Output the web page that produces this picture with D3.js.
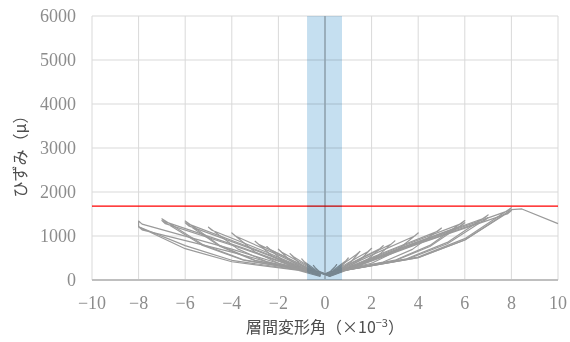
<!DOCTYPE html>
<html>
<head>
<meta charset="utf-8">
<script src="https://cdn.jsdelivr.net/npm/d3@7"></script>
<style>
  body { margin: 0; background: #fff; }
  svg text { font-family: "Liberation Serif", "DejaVu Serif", serif; }
</style>
</head>
<body>
<div id="chart"></div>
<script>
// axis ticks
const xTicks = [-10, -8, -6, -4, -2, 0, 2, 4, 6, 8, 10];
const yTicks = [0, 1000, 2000, 3000, 4000, 5000, 6000];

// highlighted drift range and strain limit
const bandRange = [-0.77, 0.73];
const limitStrain = 1680;

// strain history: one array per loading cycle, [drift(×10^-3), strain(μ)]
const cycles = [
  [[0.05,150],[0.25,200],[0.375,256],[0.5,350],[0.42,300],[0.25,205],[0.1,130],[-0.05,150],[-0.25,195],[-0.375,245],[-0.5,330],[-0.42,280],[-0.25,195],[-0.1,130]],
  [[0.1,150],[0.5,238],[0.75,336],[1,500],[0.9,440],[0.5,280],[0.2,130],[-0.1,150],[-0.5,233],[-0.75,325],[-1,480],[-0.9,420],[-0.5,270],[-0.2,130]],
  [[0.1,150],[0.75,275],[1.125,415],[1.5,650],[1.35,580],[0.75,355],[0.2,130],[-0.1,150],[-0.75,262],[-1.125,388],[-1.5,600],[-1.35,530],[-0.75,330],[-0.2,130]],
  [[0.1,150],[1,293],[1.5,452],[2,720],[1.85,650],[1,390],[0.2,130],[-0.1,150],[-1,288],[-1.5,442],[-2,700],[-1.85,630],[-1,380],[-0.2,130]],
  [[0.1,150],[1.25,308],[1.875,484],[2.5,780],[2.35,710],[1.25,420],[0.2,130],[-0.1,150],[-1.25,303],[-1.875,473],[-2.5,760],[-2.35,690],[-1.25,410],[-0.2,130]],
  [[0.1,150],[1.5,335],[2.25,542],[3,890],[2.85,820],[1.5,475],[0.2,120],[-0.1,150],[-1.5,333],[-2.25,537],[-3,880],[-2.85,810],[-1.5,470],[-0.2,120]],
  [[0.1,150],[2,380],[3,638],[4,1070],[3.85,1000],[2,565],[0.2,120],[-0.1,150],[-2,380],[-3,638],[-4,1070],[-3.85,1000],[-2,565],[-0.2,120]],
  [[0.1,150],[2.5,408],[3.75,696],[5,1180],[4.85,1110],[2.5,620],[0.2,110],[-0.1,150],[-2.5,413],[-3.75,707],[-5,1200],[-4.85,1130],[-2.5,630],[-0.2,110]],
  [[0.1,150],[3,450],[4.5,786],[6,1350],[5.85,1280],[3,705],[0.2,110],[-0.1,150],[-3,448],[-4.5,781],[-6,1340],[-5.85,1270],[-3,700],[-0.2,110]],
  [[0.1,150],[3,438],[4.5,760],[6,1300],[5.85,1230],[3,680],[0.2,100],[-0.1,150],[-3,438],[-4.5,760],[-6,1300],[-5.85,1230],[-3,680],[-0.2,100]],
  [[0.1,150],[3.5,483],[5.25,855],[7,1480],[6.85,1410],[3.5,770],[0.2,100],[-0.1,150],[-3.5,460],[-5.25,807],[-7,1390],[-6.85,1320],[-3.5,725],[-0.2,100]],
  [[0.1,150],[3.5,468],[5.25,823],[7,1420],[6.85,1350],[3.5,740],[0.2,90],[-0.1,150],[-3.5,450],[-5.25,786],[-7,1350],[-6.85,1280],[-3.5,705],[-0.2,90]],
  [[0.1,150],[4,523],[6,940],[8,1640],[7.85,1570],[4,850],[0.2,90],[-0.1,150],[-4,448],[-6,781],[-8,1210],[-8,1340],[-7.85,1270],[-4,700],[-0.2,90]],
  [[0.1,150],[4,508],[6,908],[8,1580],[7.85,1510],[4,820],[0.2,80],[-0.1,150],[-4,415],[-6,712],[-8,1210],[-7.85,1140],[-4,635],[-0.2,80]],
  [[0.1,150],[4,508],[6,908],[8,1600],[8.45,1615],[10,1280]]
];

const width = 570, height = 342;
const margin = { top: 16, right: 12, bottom: 62, left: 92 };
const iw = width - margin.left - margin.right;
const ih = height - margin.top - margin.bottom;

const svg = d3.select("#chart").append("svg").attr("width", width).attr("height", height);
const g = svg.append("g").attr("transform", `translate(${margin.left},${margin.top})`);

const x = d3.scaleLinear().domain([-10, 10]).range([0, iw]);
const y = d3.scaleLinear().domain([0, 6000]).range([ih, 0]);

// grid
g.selectAll("line.hgrid").data(yTicks.filter(d => d > 0)).enter().append("line")
  .attr("x1", 0).attr("x2", iw)
  .attr("y1", d => y(d)).attr("y2", d => y(d))
  .attr("stroke", "#d9d9d9").attr("stroke-width", 1);
g.selectAll("line.vgrid").data(xTicks).enter().append("line")
  .attr("x1", d => x(d)).attr("x2", d => x(d))
  .attr("y1", 0).attr("y2", ih)
  .attr("stroke", "#d9d9d9").attr("stroke-width", 1);

// vertical axis at zero
g.append("line")
  .attr("x1", x(0)).attr("x2", x(0)).attr("y1", 0).attr("y2", ih)
  .attr("stroke", "#b4b4b4").attr("stroke-width", 1.3);

// strain limit
g.append("line")
  .attr("x1", 0).attr("x2", iw)
  .attr("y1", y(limitStrain)).attr("y2", y(limitStrain))
  .attr("stroke", "#ff0000").attr("stroke-width", 1.3);

// loops
const line = d3.line().x(d => x(d[0])).y(d => y(d[1]));
g.selectAll("path.loop").data(cycles).enter().append("path")
  .attr("d", line)
  .attr("fill", "none")
  .attr("stroke", "#9a9a9a")
  .attr("stroke-width", 1.2)
  .attr("stroke-linejoin", "round");

// x axis line
g.append("line")
  .attr("x1", 0).attr("x2", iw).attr("y1", ih).attr("y2", ih)
  .attr("stroke", "#bfbfbf").attr("stroke-width", 2);

// band
g.append("rect")
  .attr("x", x(bandRange[0])).attr("width", x(bandRange[1]) - x(bandRange[0]))
  .attr("y", 0).attr("height", ih)
  .attr("fill", "#c5dff0")
  .style("mix-blend-mode", "multiply");

// tick labels
const fmt = d => d < 0 ? "\u2212" + Math.abs(d) : String(d);
g.selectAll("text.ylab").data(yTicks).enter().append("text")
  .attr("x", -16).attr("y", d => y(d)).attr("dy", "0.35em")
  .attr("text-anchor", "end")
  .style("font-size", "18px").style("fill", "#8c8c8c")
  .text(d => d);
g.selectAll("text.xlab").data(xTicks).enter().append("text")
  .attr("x", d => x(d)).attr("y", ih + 23).attr("dy", "0.35em")
  .attr("text-anchor", "middle")
  .style("font-size", "18px").style("fill", "#8c8c8c")
  .text(fmt);

// axis titles
const xt = svg.append("text")
  .attr("x", margin.left + x(0)).attr("y", 333)
  .attr("text-anchor", "middle")
  .style("font-family", "'Noto Sans CJK JP', sans-serif")
  .style("font-size", "16px").style("fill", "#4d4d4d");
xt.append("tspan").text("層間変形角（×10");
xt.append("tspan").attr("dy", -6).style("font-size", "11px").text("−3");
xt.append("tspan").attr("dy", 6).text("）");

svg.append("text")
  .attr("transform", `translate(26,${margin.top + y(2900)}) rotate(-90)`)
  .attr("text-anchor", "middle")
  .style("font-family", "'Noto Sans CJK JP', sans-serif")
  .style("font-size", "16px").style("fill", "#4d4d4d")
  .text("ひずみ（μ）");
</script>
</body>
</html>
